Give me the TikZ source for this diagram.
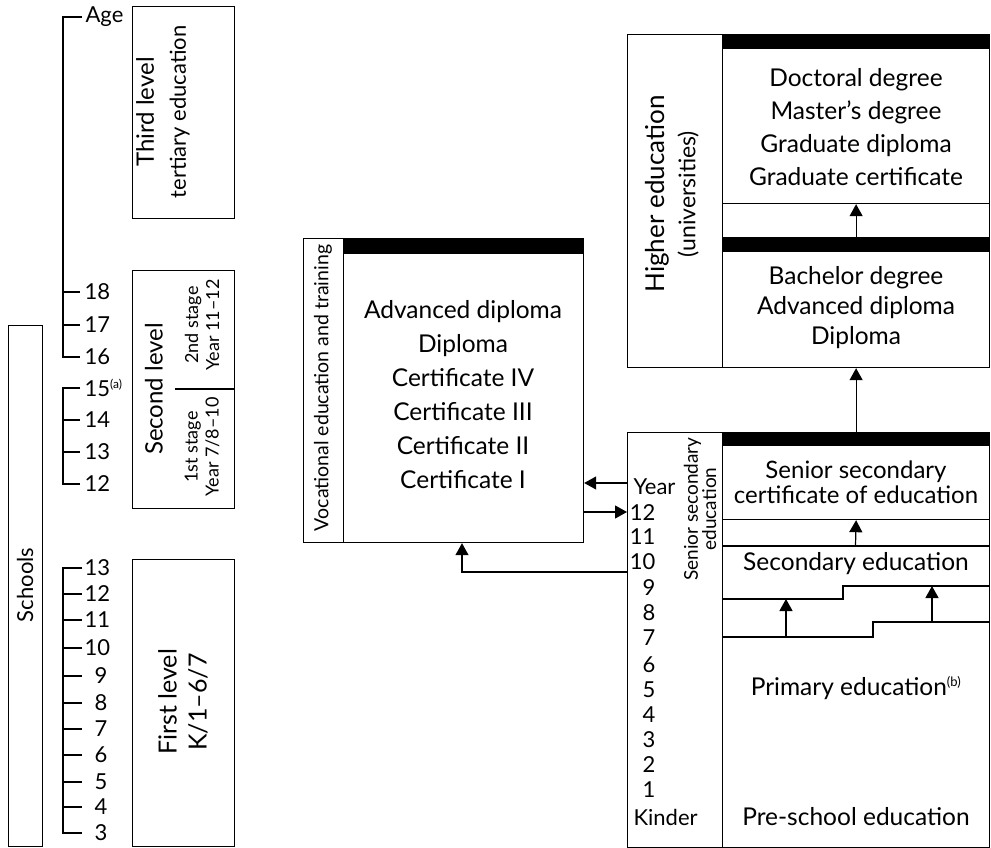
\documentclass[tikz,border=0pt]{standalone}
\usepackage{fontspec}
\setmainfont{Lato}
\usetikzlibrary{arrows.meta}
\begin{document}
\begin{tikzpicture}[x=1pt,y=-1pt,line width=1.2pt,
  box/.style={draw,rectangle,inner sep=0pt,anchor=north west},
  bar/.style={draw,fill=black,rectangle,inner sep=0pt,anchor=north west},
  txt/.style={inner sep=0pt,align=center,font=\fontsize{24.5}{34}\selectfont},
  num/.style={inner sep=0pt,font=\fontsize{22}{26}\selectfont},
  rtxt/.style={inner sep=0pt,align=center,rotate=90},
  arr/.style={-{Triangle[length=12pt,width=13pt]}}]
\useasboundingbox (0,0) rectangle (991,848);

% ---- age scale ----
\draw (82,17) -- (63,17) -- (63,357) -- (80,357);
\foreach \y in {292,325} \draw (63,\y) -- (80,\y);
\node[num,anchor=west] (age) at (85,17) {Age};
\node[num,anchor=west] (a18) at (84,292) {18};
\node[num,anchor=west] (a17) at (84,325) {17};
\node[num,anchor=west] (a16) at (84,357) {16};
\draw (80,388) -- (63,388) -- (63,484) -- (80,484);
\foreach \y in {420,452} \draw (63,\y) -- (80,\y);
\node[num,anchor=west] (a15) at (84,388) {15\textsuperscript{\fontsize{12}{12}\selectfont(a)}};
\node[num,anchor=west] (a14) at (84,420) {14};
\node[num,anchor=west] (a13) at (84,452) {13};
\node[num,anchor=west] (a12) at (84,484) {12};
\draw (82,568) -- (63,568) -- (63,833) -- (82,833);
\foreach \y in {594,620,648,676,703,729,755,782,807} \draw (63,\y) -- (82,\y);
\node[num,anchor=west] (b13) at (84,568) {13};
\node[num,anchor=west] (b12) at (84,594) {12};
\node[num,anchor=west] (b11) at (84,620) {11};
\node[num,anchor=west] (b10) at (84,648) {10};
\foreach \v/\y in {9/676,8/703,7/729,6/755,5/782,4/807,3/833}
  \node[num,anchor=east] (b\v) at (108,\y) {\v};

% ---- levels ----
\node[box,minimum width=102,minimum height=212] (third) at (132,6) {};
\node[rtxt,font=\fontsize{22}{32}\selectfont] (thirdt) at (163,112)
  {{\fontsize{24}{32}\selectfont Third level}\\tertiary education};
\node[box,minimum width=102,minimum height=238] (second) at (132,270) {};
\draw (175,389) -- (second.east |- 0,389);
\node[rtxt,font=\fontsize{24}{28}\selectfont] (secondt) at (154,389) {Second level};
\node[rtxt,font=\fontsize{18}{21}\selectfont] (stage2) at (202,325) {2nd stage\\Year 11--12};
\node[rtxt,font=\fontsize{18}{21}\selectfont] (stage1) at (202,447) {1st stage\\Year 7/8--10};
\node[box,minimum width=102,minimum height=287] (first) at (132,559) {};
\node[rtxt,font=\fontsize{25}{30}\selectfont] (firstt) at (183,702) {First level\\K/1--6/7};
\node[box,minimum width=34,minimum height=521] (schools) at (8,325) {};
\node[rtxt,font=\fontsize{22}{26}\selectfont] (schoolst) at (25,585) {Schools};

% ---- vocational education and training ----
\node[box,minimum width=280,minimum height=304] (vet) at (303,238) {};
\node[box,minimum width=40,minimum height=304] (vetside) at (303,238) {};
\node[bar,minimum width=240,minimum height=15] (vetbar) at (343,238) {};
\node[rtxt,font=\fontsize{19.5}{24}\selectfont] (vett) at (323,388) {Vocational education and training};
\node[txt] (vetlist) at (463,395) {Advanced diploma\\Diploma\\Certificate IV\\Certificate III\\Certificate II\\Certificate I};

% ---- higher education ----
\node[box,minimum width=362,minimum height=333] (higher) at (627,34) {};
\node[box,minimum width=95,minimum height=333] (higherside) at (627,34) {};
\node[bar,minimum width=267,minimum height=14] (hibar1) at (722,34) {};
\node[box,minimum width=267,minimum height=155] (grad) at (722,48) {};
\node[bar,minimum width=267,minimum height=14] (hibar2) at (722,237) {};
\node[box,minimum width=267,minimum height=116] (bach) at (722,251) {};
\node[rtxt,font=\fontsize{23}{31}\selectfont] (highert) at (672,194)
  {{\fontsize{26}{31}\selectfont Higher education}\\(universities)};
\node[txt,font=\fontsize{24.5}{33}\selectfont] (gradt) at (856,127) {Doctoral degree\\Master's degree\\Graduate diploma\\Graduate certificate};
\node[txt,font=\fontsize{24.5}{30}\selectfont] (bacht) at (856,308) {Bachelor degree\\Advanced diploma\\Diploma};

% ---- schools ----
\node[box,minimum width=362,minimum height=415] (senior) at (627,432) {};
\node[box,minimum width=95,minimum height=415] (seniorside) at (627,432) {};
\node[bar,minimum width=267,minimum height=13] (senbar) at (722,432) {};
\node[box,minimum width=267,minimum height=74] (ssce) at (722,445) {};
\coordinate (secTop) at (855.5,546);
\draw (722,546) -- (989,546);
\draw (722,599) -- (843,599) -- (843,586) -- (989,586);
\draw (722,637) -- (873,637) -- (873,622) -- (989,622);
\node[txt,font=\fontsize{24}{25}\selectfont] (sscet) at (856,482) {Senior secondary\\certificate of education};
\node[txt] (sect) at (856,564) {Secondary education};
\node[txt] (primt) at (856,688) {Primary education\textsuperscript{\fontsize{13}{13}\selectfont(b)}};
\node[txt] (pret) at (856,817) {Pre-school education};
\node[rtxt,font=\fontsize{19}{17}\selectfont] (sset) at (700,509) {Senior secondary\\education};
\node[num,anchor=west] (yr) at (633,487) {Year};
\node[num,anchor=east] (y12) at (656,513) {12};
\node[num,anchor=east] (y11) at (656,537) {11};
\node[num,anchor=east] (y10) at (656,562) {10};
\foreach \v/\y in {9/588,8/613,7/638,6/665,5/690,4/715,3/740,2/765,1/790}
  \node[num,anchor=east] (y\v) at (656,\y) {\v};
\node[num,anchor=west] (kinder) at (633,817) {Kinder};

% ---- pathways ----
\coordinate (pA) at (0,483);
\coordinate (pB) at (0,512);
\coordinate (pC) at (0,572);
\coordinate (stepA) at (786,637);
\coordinate (stepB) at (932,622);
\draw[arr] (senior.west |- pA) -- (vet.east |- pA);
\draw[arr] (vet.east |- pB) -- (senior.west |- pB);
\draw[arr] (senior.west |- pC) -- (462,572) -- (vet.south -| 462,0);
\draw[arr] (senbar.north) -- (bach.south);
\draw[arr] (hibar2.north) -- (grad.south);
\draw[arr] (secTop) -- (ssce.south);
\draw[arr] (stepA) -- (786,599);
\draw[arr] (stepB) -- (932,586);
\end{tikzpicture}
\end{document}
